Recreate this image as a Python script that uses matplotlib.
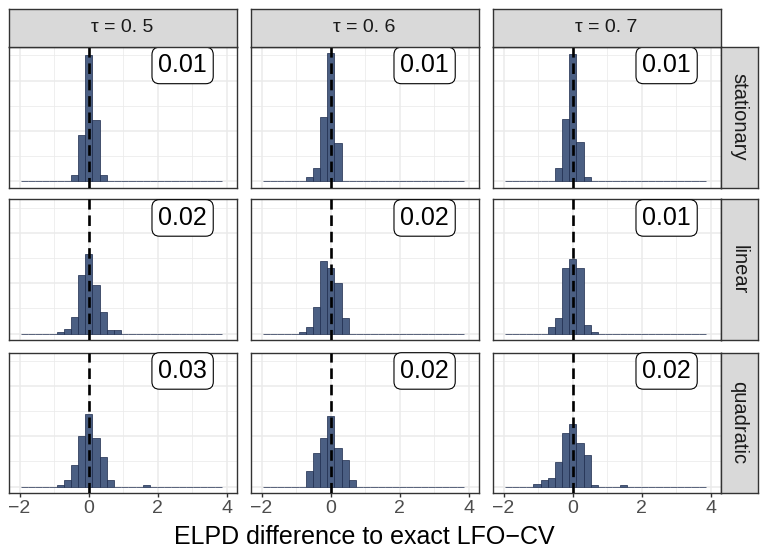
import numpy as np
import matplotlib.pyplot as plt

plt.rcParams['font.family'] = ['Liberation Sans', 'DejaVu Sans']

# facet labels
tau_labels = ['τ = 0. 5', 'τ = 0. 6', 'τ = 0. 7']
trend_labels = ['stationary', 'linear', 'quadratic']

# histogram bins (same for all panels)
bin_start = -1.97
bin_width = 0.208
n_bins = 28

# counts per bin
stat_05 = [0, 0, 0, 0, 0, 0, 0, 6, 46, 125, 61, 6, 0, 0, 0, 0, 0, 0, 0, 0, 0, 0, 0, 0, 0, 0, 0, 0]
stat_06 = [0, 0, 0, 0, 0, 0, 4, 13, 64, 127, 38, 0, 0, 0, 0, 0, 0, 0, 0, 0, 0, 0, 0, 0, 0, 0, 0, 0]
stat_07 = [0, 0, 0, 0, 0, 0, 0, 13, 62, 126, 39, 4, 0, 0, 0, 0, 0, 0, 0, 0, 0, 0, 0, 0, 0, 0, 0, 0]
lin_05 = [0, 0, 0, 0, 0, 2, 5, 17, 58, 79, 48, 21, 4, 4, 0, 0, 0, 0, 0, 0, 0, 0, 0, 0, 0, 0, 0, 0]
lin_06 = [0, 0, 0, 0, 0, 2, 7, 26, 72, 65, 50, 16, 0, 0, 0, 0, 0, 0, 0, 0, 0, 0, 0, 0, 0, 0, 0, 0]
lin_07 = [0, 0, 0, 0, 0, 0, 7, 16, 65, 74, 65, 9, 2, 0, 0, 0, 0, 0, 0, 0, 0, 0, 0, 0, 0, 0, 0, 0]
quad_05 = [0, 0, 0, 0, 0, 2, 7, 21, 50, 72, 48, 29, 7, 0, 0, 0, 0, 2, 0, 0, 0, 0, 0, 0, 0, 0, 0, 0]
quad_06 = [0, 0, 0, 0, 0, 0, 16, 33, 48, 70, 38, 26, 7, 0, 0, 0, 0, 0, 0, 0, 0, 0, 0, 0, 0, 0, 0, 0]
quad_07 = [0, 0, 0, 0, 3, 7, 9, 24, 53, 62, 43, 31, 2, 0, 0, 0, 2, 0, 0, 0, 0, 0, 0, 0, 0, 0, 0, 0]

# mean differences shown in the boxes
labels_stat = ['0.01', '0.01', '0.01']
labels_lin = ['0.02', '0.02', '0.01']
labels_quad = ['0.03', '0.02', '0.02']

grid_counts = [[stat_05, stat_06, stat_07],
               [lin_05, lin_06, lin_07],
               [quad_05, quad_06, quad_07]]
grid_labels = [labels_stat, labels_lin, labels_quad]

edges = bin_start + bin_width * np.arange(n_bins + 1)
ymax = max(max(c) for row in grid_counts for c in row)

W, H = 760, 551
fig = plt.figure(figsize=(W / 100, H / 100), dpi=100)

def px_axes(left, top, width, height):
    return fig.add_axes([left / W, 1 - (top + height) / H, width / W, height / H])

col_left = [8.5, 250.5, 492.5]
row_top = [47, 199.5, 352.5]
pw, ph = 228, 140.5
strip_h = 38
strip_w = 37

fill = '#4b5f83'
edge = '#1c2b4d'
border = '#333333'

for i in range(3):
    for j in range(3):
        ax = px_axes(col_left[j], row_top[i], pw, ph)
        ax.set_axisbelow(True)
        ax.bar(edges[:-1], grid_counts[i][j], width=bin_width, align='edge',
               color=fill, edgecolor=edge, linewidth=0.5, zorder=2)
        ax.axvline(0, color='black', lw=1.9, dashes=(4, 2.2), zorder=3)
        ax.text(2.72, 115, grid_labels[i][j], ha='center', va='center', fontsize=18,
                zorder=4,
                bbox=dict(boxstyle='round,pad=0.25,rounding_size=0.3', fc='white',
                          ec='black', lw=0.8))
        ax.set_xlim(-2.32, 4.28)
        ax.set_ylim(-0.05 * ymax, 1.05 * ymax)
        ax.set_xticks([-2, 0, 2, 4])
        ax.set_xticks([-1, 1, 3], minor=True)
        ax.set_yticks([0, 50, 100])
        ax.set_yticks([25, 75, 125], minor=True)
        ax.grid(which='major', color='#EBEBEB', lw=1.1)
        ax.grid(which='minor', color='#EBEBEB', lw=0.55)
        ax.tick_params(axis='y', which='both', length=0, labelleft=False)
        ax.tick_params(axis='x', which='minor', length=0)
        for s in ax.spines.values():
            s.set_color(border)
            s.set_linewidth(1.0)
        if i == 2:
            ax.set_xticklabels(['−2', '0', '2', '4'])
            ax.tick_params(axis='x', which='major', length=3, width=1.0, color=border,
                           labelsize=14, labelcolor='#4D4D4D', pad=2)
        else:
            ax.tick_params(axis='x', which='major', length=0, labelbottom=False)

# top strips
for j in range(3):
    sa = px_axes(col_left[j], row_top[0] - strip_h, pw, strip_h)
    sa.set_facecolor('#D9D9D9')
    sa.set_xticks([])
    sa.set_yticks([])
    for s in sa.spines.values():
        s.set_color(border)
        s.set_linewidth(1.0)
    sa.text(0.5, 0.5, tau_labels[j], ha='center', va='center', fontsize=14,
            color='#1A1A1A', transform=sa.transAxes)

# right strips
for i in range(3):
    sa = px_axes(col_left[2] + pw, row_top[i], strip_w, ph)
    sa.set_facecolor('#D9D9D9')
    sa.set_xticks([])
    sa.set_yticks([])
    for s in sa.spines.values():
        s.set_color(border)
        s.set_linewidth(1.0)
    sa.text(0.5, 0.5, trend_labels[i], ha='center', va='center', fontsize=14.5,
            rotation=-90, color='#1A1A1A', transform=sa.transAxes)

fig.text(364.5 / W, 1 - 537 / H, 'ELPD difference to exact LFO−CV', ha='center',
         va='center', fontsize=18)

fig.savefig('out.png', dpi=100)
